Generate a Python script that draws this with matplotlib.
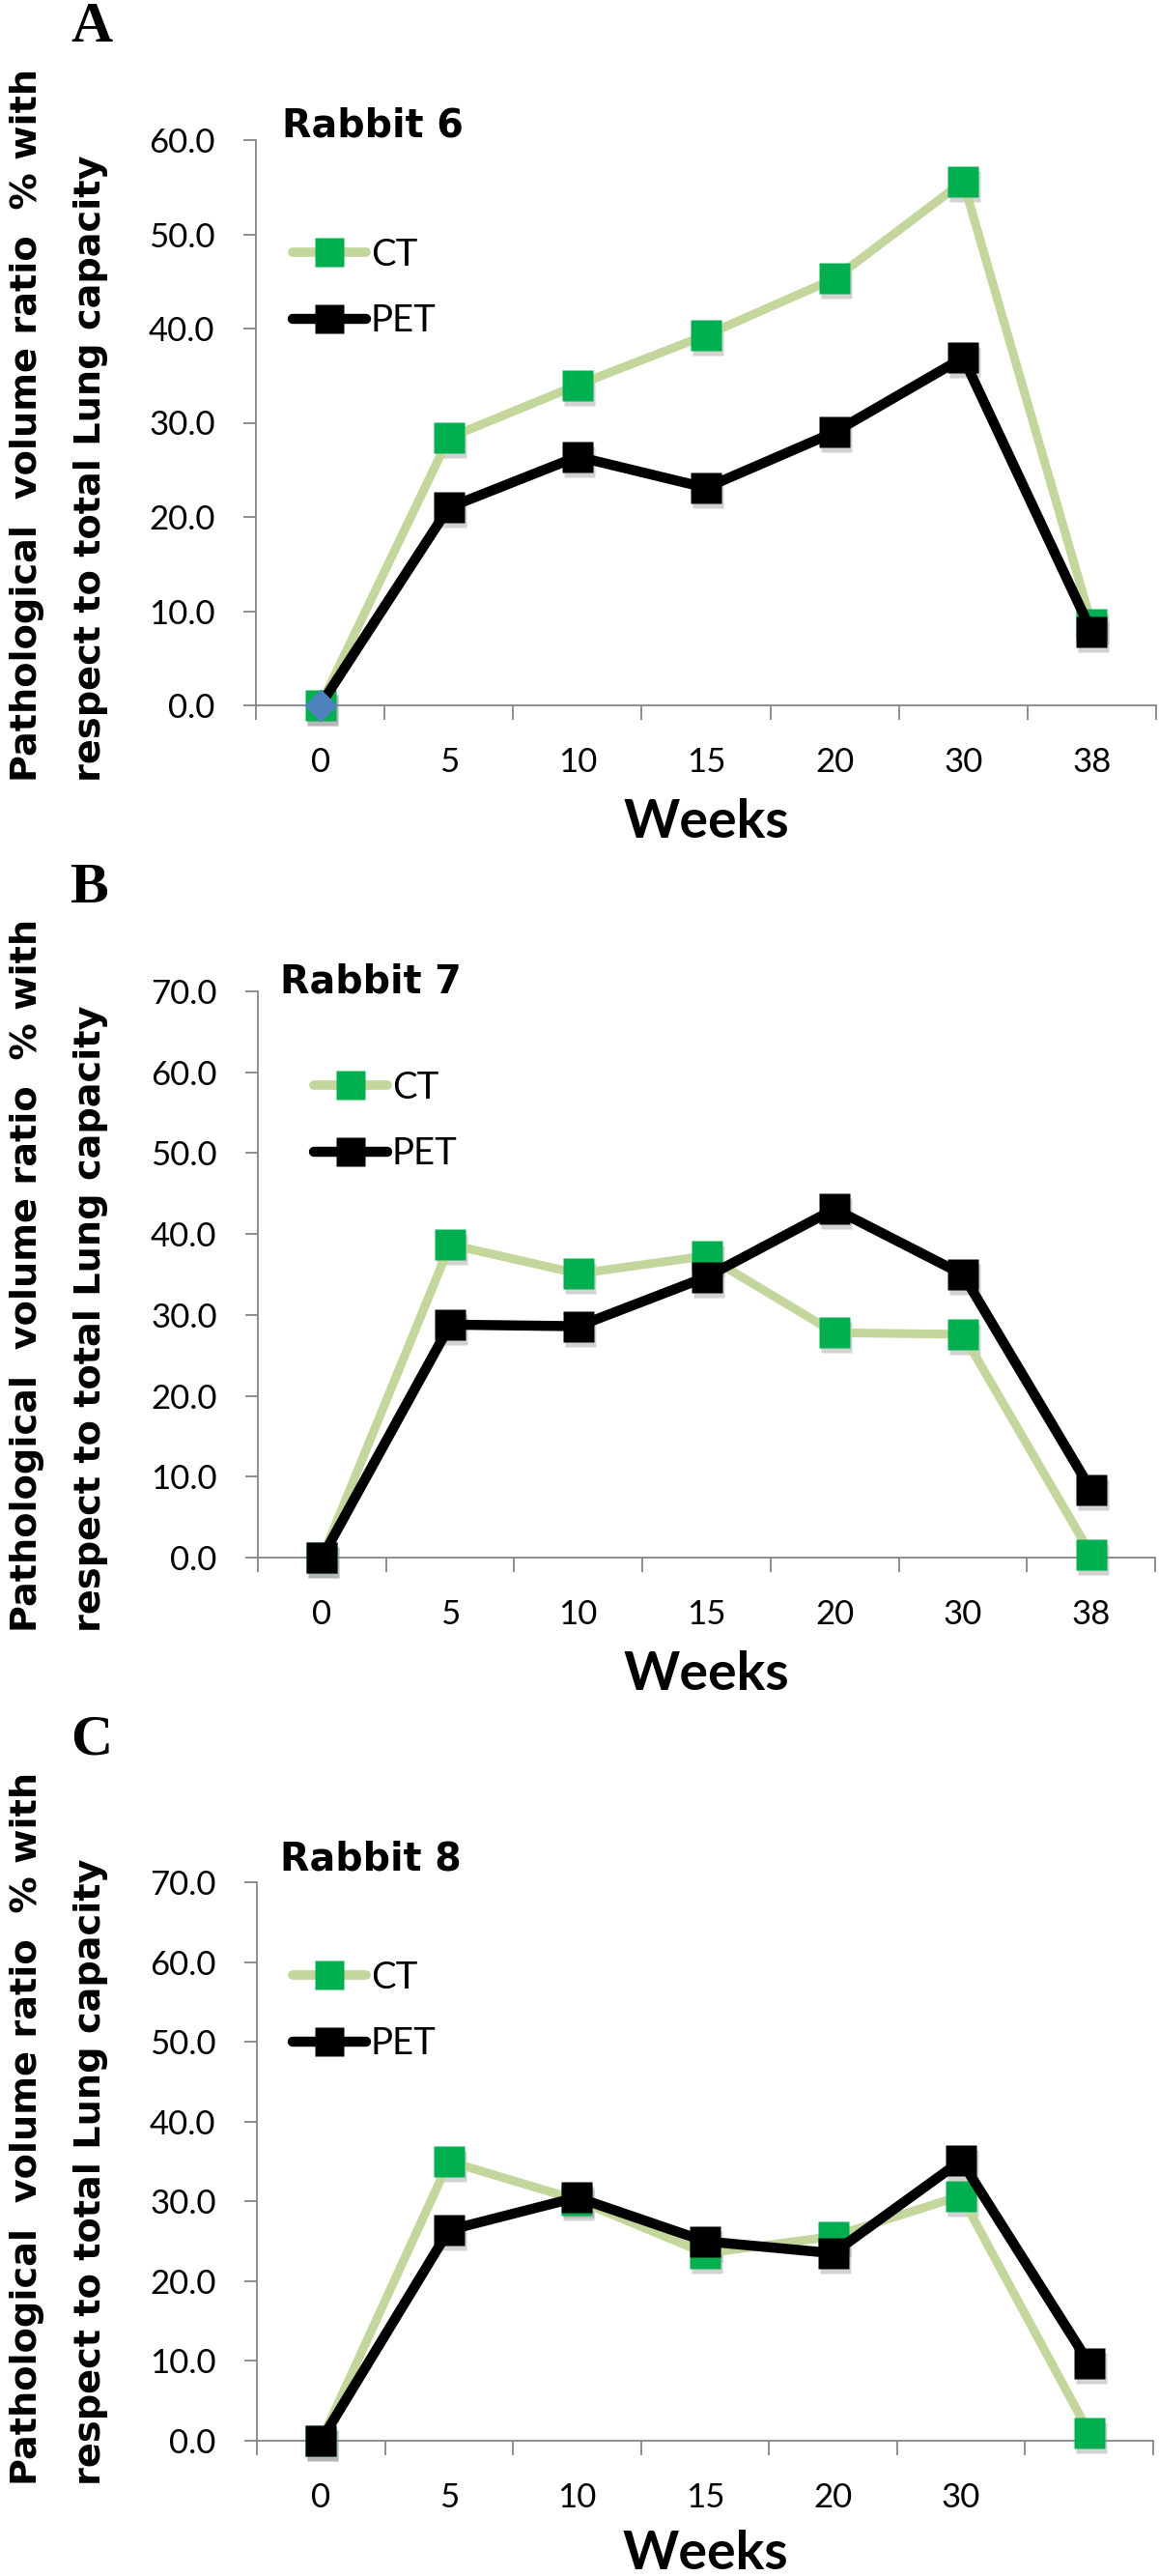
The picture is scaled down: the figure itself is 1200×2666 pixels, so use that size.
import matplotlib.pyplot as plt
from matplotlib.lines import Line2D
from matplotlib.transforms import offset_copy

W, H = 1200, 2666

# week categories (panel C has no label on the last category)
weeks = ['0', '5', '10', '15', '20', '30', '38']
weeks_c = ['0', '5', '10', '15', '20', '30', '']

# pathological volume ratio (%)
ct_a = [0.0, 28.4, 34.0, 39.3, 45.3, 55.6, 8.6]
pet_a = [0.0, 21.0, 26.4, 23.1, 29.0, 36.9, 7.8]
ct_b = [0.0, 38.7, 35.1, 37.3, 27.8, 27.6, 0.4]
pet_b = [0.0, 28.8, 28.6, 34.7, 43.1, 35.0, 8.4]
ct_c = [0.0, 35.0, 30.2, 23.5, 25.6, 30.7, 1.0]
pet_c = [0.0, 26.4, 30.5, 25.0, 23.5, 35.1, 9.7]

# extra blue diamond at week 0 in panel A
diamond_a_x = [0]
diamond_a_y = [0.0]

CT_LINE = '#c3d69b'
CT_MARK = '#00b050'
AXIS = '#868686'
YLABEL = 'Pathological  volume ratio  % with\nrespect to total Lung capacity'

fig = plt.figure(figsize=(W / 100, H / 100), dpi=100)


def px_rect(left, right, top, bottom):
    return [left / W, 1 - bottom / H, (right - left) / W, (bottom - top) / H]


def draw_panel(letter, title, ct, pet, labels, ymax, box, letter_xy,
               title_off, leg_off, ylab_bottom, weeks_off=-121,
               pet_markevery=None):
    ax = fig.add_axes(px_rect(*box))
    x = list(range(len(labels)))

    # soft drop shadow under the markers
    shadow = offset_copy(ax.transData, fig=fig, x=2, y=-5, units='dots')
    for ys in (ct, pet):
        ax.plot(x, ys, ls='none', marker='s', ms=23, color='#808080',
                alpha=0.35, mec='none', transform=shadow, clip_on=False,
                zorder=2)

    ax.plot(x, ct, color=CT_LINE, lw=6.5, marker='s', ms=23, mfc=CT_MARK,
            mec='none', clip_on=False, zorder=3, solid_joinstyle='round')
    ax.plot(x, pet, color='black', lw=7.5, marker='s', ms=23, mfc='black',
            mec='none', clip_on=False, zorder=4, markevery=pet_markevery,
            solid_joinstyle='round')

    ax.set_xlim(-0.5, len(labels) - 0.5)
    ax.set_ylim(0, ymax)
    ax.set_xticks(x)
    ax.set_xticklabels(labels)
    ax.set_xticks([i - 0.5 for i in range(len(labels) + 1)], minor=True)
    yt = list(range(0, ymax + 1, 10))
    ax.set_yticks(yt)
    ax.set_yticklabels([f'{v:.1f}' for v in yt])

    for s in ('top', 'right'):
        ax.spines[s].set_visible(False)
    for s in ('left', 'bottom'):
        ax.spines[s].set_color(AXIS)
        ax.spines[s].set_linewidth(1.3)

    ax.tick_params(axis='x', which='major', length=0, pad=31,
                   labelsize=25, labelfontfamily='Lato')
    ax.tick_params(axis='x', which='minor', length=11, width=1.3,
                   color=AXIS, direction='out')
    ax.tick_params(axis='y', length=9.5, width=1.3, color=AXIS,
                   direction='out', pad=21, labelsize=25,
                   labelfontfamily='Lato')

    # legend
    handles = [
        Line2D([], [], color=CT_LINE, lw=7, marker='s', ms=21,
               mfc=CT_MARK, mec='none', solid_capstyle='round'),
        Line2D([], [], color='black', lw=7.5, marker='s', ms=21,
               mfc='black', mec='none', solid_capstyle='round'),
    ]
    axw = box[1] - box[0]
    axh = box[3] - box[2]
    ax.legend(handles, ['CT', 'PET'], loc='center left',
              bbox_to_anchor=(leg_off[0] / axw, 1 - leg_off[1] / axh),
              frameon=False, borderpad=0, borderaxespad=0,
              handlelength=2.0, handletextpad=0.12, labelspacing=0.85,
              prop={'family': 'Lato', 'size': 27.5})

    # panel title
    tt = offset_copy(ax.transAxes, fig=fig, x=title_off[0], y=title_off[1],
                     units='dots')
    ax.text(0, 1, title, transform=tt, ha='left', va='center',
            fontsize=28.5, fontweight='bold', family='DejaVu Sans')

    # x axis title
    wt = offset_copy(ax.transAxes, fig=fig, x=0, y=weeks_off, units='dots')
    ax.text(0.5, 0, 'Weeks', transform=wt, ha='center', va='center',
            fontsize=40, fontweight='bold', family='Lato')

    # y axis title, two lines starting at the same height
    fig.text(61 / W, 1 - ylab_bottom / H, YLABEL, rotation=90,
             ha='center', va='bottom', multialignment='left',
             fontsize=27.5, fontweight='bold', family='DejaVu Sans',
             linespacing=2.05)

    # panel letter
    fig.text(letter_xy[0] / W, 1 - letter_xy[1] / H, letter, ha='center',
             va='center', fontsize=43, fontweight='bold',
             family='Liberation Serif')
    return ax


ax_a = draw_panel('A', 'Rabbit 6', ct_a, pet_a, weeks, 60,
                  (265, 1197, 145, 730), (95, 29), (27, 14), (38, 153),
                  809, pet_markevery=list(range(1, 7)))
ax_a.plot(diamond_a_x, diamond_a_y, ls='none', marker='D', ms=17,
          color='#4f81bd', mec='none', clip_on=False, zorder=5)

draw_panel('B', 'Rabbit 7', ct_b, pet_b, weeks, 70,
           (267, 1196, 1026, 1612), (92, 920), (23, 9), (58, 134), 1689)

draw_panel('C', 'Rabbit 8', ct_c, pet_c, weeks_c, 70,
           (266, 1194, 1948, 2526), (95, 1802), (24, 23), (37, 133), 2572,
           weeks_off=-117)

fig.savefig('out.png', dpi=100, facecolor='white')
